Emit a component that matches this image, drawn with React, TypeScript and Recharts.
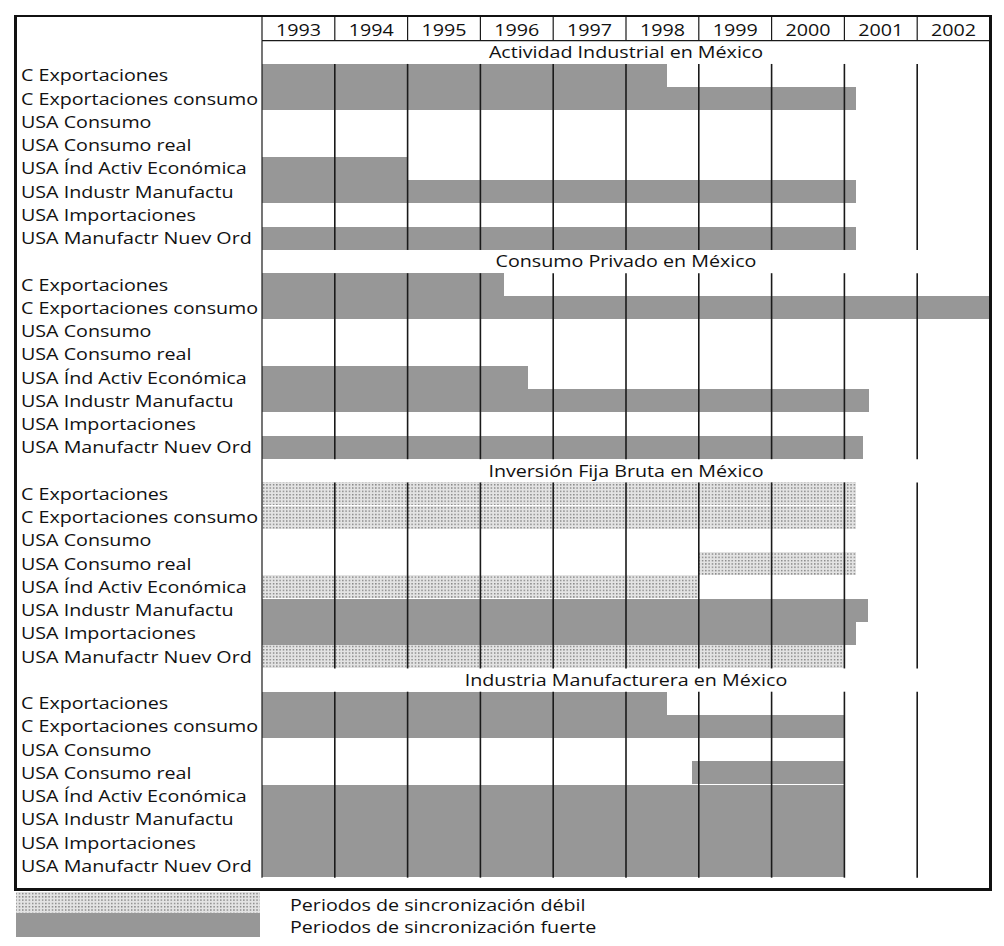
import React from 'react';
import { BarChart, Bar, XAxis, YAxis, Cell, ReferenceArea } from 'recharts';

// ---------- data ----------
const years = [1993, 1994, 1995, 1996, 1997, 1998, 1999, 2000, 2001, 2002];
const indicators = [
  'C Exportaciones',
  'C Exportaciones consumo',
  'USA Consumo',
  'USA Consumo real',
  'USA Índ Activ Económica',
  'USA Industr Manufactu',
  'USA Importaciones',
  'USA Manufactr Nuev Ord',
];
const sectionTitles = [
  'Actividad Industrial en México',
  'Consumo Privado en México',
  'Inversión Fija Bruta en México',
  'Industria Manufacturera en México',
];
type Span = [number, number] | null;
// periods of synchronisation [start, end] per indicator
const actividadIndustrial: Span[] = [[1993, 1998.57], [1993, 2001.16], null, null, [1993, 1995], [1993, 2001.16], null, [1993, 2001.16]];
const actividadTipo = ['fuerte', 'fuerte', '', '', 'fuerte', 'fuerte', '', 'fuerte'];
const consumoPrivado: Span[] = [[1993, 1996.32], [1993, 2003], null, null, [1993, 1996.66], [1993, 2001.34], null, [1993, 2001.25]];
const consumoTipo = ['fuerte', 'fuerte', '', '', 'fuerte', 'fuerte', '', 'fuerte'];
const inversionFija: Span[] = [[1993, 2001.16], [1993, 2001.16], null, [1999, 2001.16], [1993, 1999], [1993, 2001.33], [1993, 2001.16], [1993, 2001]];
const inversionTipo = ['debil', 'debil', '', 'debil', 'debil', 'fuerte', 'fuerte', 'debil'];
const industriaManuf: Span[] = [[1993, 1998.57], [1993, 2001], null, [1998.9, 2001], [1993, 2001], [1993, 2001], [1993, 2001], [1993, 2001]];
const industriaTipo = ['fuerte', 'fuerte', '', 'fuerte', 'fuerte', 'fuerte', 'fuerte', 'fuerte'];
const legendLabels = ['Periodos de sincronización débil', 'Periodos de sincronización fuerte'];

const sectionSpans = [actividadIndustrial, consumoPrivado, inversionFija, industriaManuf];
const sectionKinds = [actividadTipo, consumoTipo, inversionTipo, industriaTipo];

type Row = { key: string; label: string; title: string; range: Span; kind: string };
const rows: Row[] = [];
sectionTitles.forEach((title, s) => {
  rows.push({ key: `t${s}`, label: '', title, range: null, kind: '' });
  indicators.forEach((name, i) => {
    rows.push({ key: `r${s}-${i}`, label: name, title: '', range: sectionSpans[s][i], kind: sectionKinds[s][i] });
  });
});
const lastIdx = indicators.length - 1;
const boundaries = years.slice(1);
const yearCenters = years.map((y) => y + 0.5);

// ---------- styles ----------
const FONT = "'Open Sans', sans-serif";
const FS = 16;
const SX = 1.23;
const TXT = '#111';
const SOLID = '#979797';
const LINE = '#1a1a1a';
const HEADER_H = 25.7;

const RowLabel = (props: any) => {
  const { y, payload } = props;
  const row = rows.find((r) => r.key === payload.value);
  if (!row || !row.label) return <g />;
  return (
    <text transform={`translate(13,${y}) scale(${SX},1)`} dy="0.36em" fontSize={FS} fontFamily={FONT} fill={TXT}>
      {row.label}
    </text>
  );
};

const YearTick = (props: any) => {
  const { x, y, payload, width, visibleTicksCount } = props;
  const colW = width && visibleTicksCount ? width / visibleTicksCount : 0;
  return (
    <g>
      {colW > 0 && (
        <line x1={x - colW / 2} x2={x - colW / 2} y1={y} y2={y - HEADER_H} stroke={LINE} strokeWidth={1.2} />
      )}
      <text transform={`translate(${x},${y - 5}) scale(${SX},1)`} textAnchor="middle" fontSize={FS} fontFamily={FONT} fill={TXT}>
        {Math.floor(payload.value)}
      </text>
    </g>
  );
};

const TitleLabel = (props: any) => {
  const vb = props.viewBox || props;
  const cx = vb.x + vb.width / 2;
  const cy = vb.y + vb.height / 2;
  return (
    <text transform={`translate(${cx},${cy}) scale(${SX},1)`} textAnchor="middle" dy="0.36em" fontSize={FS} fontFamily={FONT} fill={TXT}>
      {props.text}
    </text>
  );
};

// vertical rule drawn along the left edge of a (zero-width) reference area
const makeRule = (w: number) => (p: any) => (
  <line x1={p.x} x2={p.x} y1={p.y} y2={p.y + p.height} stroke={LINE} strokeWidth={w} />
);

const DotPattern = ({ id }: { id: string }) => (
  <pattern id={id} width="3.3" height="3.3" patternUnits="userSpaceOnUse">
    <rect width="3.3" height="3.3" fill="#e3e3e3" />
    <rect x="0.9" y="0.9" width="1.3" height="1.3" fill="#707070" />
  </pattern>
);

export default function App() {
  return (
    <div style={{ position: 'relative', width: 996, height: 938, fontFamily: FONT }}>
      <BarChart
        width={996}
        height={890}
        data={rows}
        layout="vertical"
        margin={{ top: 7, right: 14, left: 8, bottom: 20.3 }}
        barCategoryGap={0}
        barGap={0}
      >
        <defs>
          <DotPattern id="dots" />
        </defs>
        <XAxis
          xAxisId="x"
          type="number"
          orientation="top"
          domain={[1993, 2003]}
          ticks={yearCenters}
          interval={0}
          height={HEADER_H}
          tickSize={0}
          tickMargin={0}
          tickLine={false}
          axisLine={{ stroke: LINE, strokeWidth: 1.2 }}
          tick={<YearTick />}
        />
        <YAxis
          yAxisId="cat"
          type="category"
          dataKey="key"
          width={246}
          interval={0}
          tickLine={false}
          axisLine={false}
          tick={<RowLabel />}
        />
        <Bar dataKey="range" xAxisId="x" yAxisId="cat" isAnimationActive={false} shapeRendering="crispEdges">
          {rows.map((r) => (
            <Cell key={r.key} fill={r.kind === 'debil' ? 'url(#dots)' : SOLID} shapeRendering="crispEdges" />
          ))}
        </Bar>
        {sectionTitles.map((t, s) => (
          <ReferenceArea
            key={`ta${s}`}
            xAxisId="x"
            yAxisId="cat"
            x1={1993}
            x2={2003}
            y1={`t${s}`}
            y2={`t${s}`}
            fill="none"
            fillOpacity={0}
            stroke="none"
            ifOverflow="visible"
            label={<TitleLabel text={t} />}
            {...({ zIndex: 2100 } as any)}
          />
        ))}
        {sectionTitles.map((_, s) =>
          boundaries.map((b) => (
            <ReferenceArea
              key={`v${s}-${b}`}
              xAxisId="x"
              yAxisId="cat"
              x1={b}
              x2={b}
              y1={`r${s}-0`}
              y2={`r${s}-${lastIdx}`}
              ifOverflow="visible"
              shape={makeRule(1.6)}
              {...({ zIndex: 450 } as any)}
            />
          ))
        )}
        <ReferenceArea
          xAxisId="x"
          yAxisId="cat"
          x1={years[0]}
          x2={years[0]}
          y1={rows[0].key}
          y2={rows[rows.length - 1].key}
          ifOverflow="visible"
          shape={makeRule(1.2)}
          {...({ zIndex: 450 } as any)}
        />
      </BarChart>
      <div
        style={{
          position: 'absolute',
          left: 6.3,
          top: 7,
          width: 977.7,
          height: 876,
          boxSizing: 'border-box',
          borderTop: '2px solid #111',
          borderLeft: '3px solid #111',
          borderRight: '3px solid #111',
          borderBottom: '3px solid #111',
          pointerEvents: 'none',
        }}
      />
      <svg style={{ position: 'absolute', left: 0, top: 884 }} width={996} height={54}>
        <defs>
          <DotPattern id="dots-legend" />
        </defs>
        <rect x={8} y={0} width={244} height={21} fill="url(#dots-legend)" />
        <rect x={8} y={21} width={244} height={24} fill={SOLID} />
        {legendLabels.map((l, i) => (
          <text
            key={l}
            transform={`translate(282,${i === 0 ? 13 : 35}) scale(${SX},1)`}
            dy="0.36em"
            fontSize={FS}
            fontFamily={FONT}
            fill={TXT}
          >
            {l}
          </text>
        ))}
      </svg>
    </div>
  );
}
